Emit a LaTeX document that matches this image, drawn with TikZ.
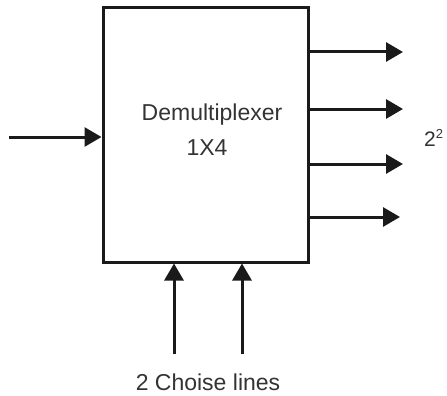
\documentclass[tikz,border=0pt]{standalone}
\usepackage{fontspec}
\setmainfont{Liberation Sans}
\usetikzlibrary{arrows.meta}
\definecolor{ink}{HTML}{1A1A1A}
\definecolor{txt}{HTML}{333333}
\begin{document}
\begin{tikzpicture}[x=1pt,y=-1pt,
  wire/.style={draw=ink,line width=3pt,-{Triangle[length=17pt,width=19pt]}},
  lbl/.style={text=txt,font=\fontsize{23}{27}\selectfont,inner sep=0pt}]
\useasboundingbox (0,0) rectangle (447,396);
\node[draw=ink,line width=3pt,minimum width=205pt,minimum height=254pt,inner sep=0pt] (box) at (205.5,135) {};
\node[lbl,anchor=center] (t1) at (212,115) {Demultiplexer};
\node[lbl,anchor=center] (t2) at (207,148) {1X4};
\coordinate (in) at (9,137);
\draw[wire] (in) -- (in -| box.west);
\coordinate (o1) at (403,52);
\coordinate (o2) at (403,109);
\coordinate (o3) at (403,164);
\coordinate (o4) at (400,217);
\foreach \o in {o1,o2,o3,o4}{\draw[wire] (\o -| box.east) -- (\o);}
\node[lbl,anchor=west,font=\fontsize{21}{25}\selectfont] (pow) at (424,138) {2$^{\hbox{\fontsize{13}{15}\selectfont 2}}$};
\coordinate (s1) at (174,354);
\coordinate (s2) at (242,354);
\draw[wire] (s1) -- (s1 |- box.south);
\draw[wire] (s2) -- (s2 |- box.south);
\node[lbl,anchor=center] (cl) at (208,382) {2 Choise lines};
\end{tikzpicture}
\end{document}
